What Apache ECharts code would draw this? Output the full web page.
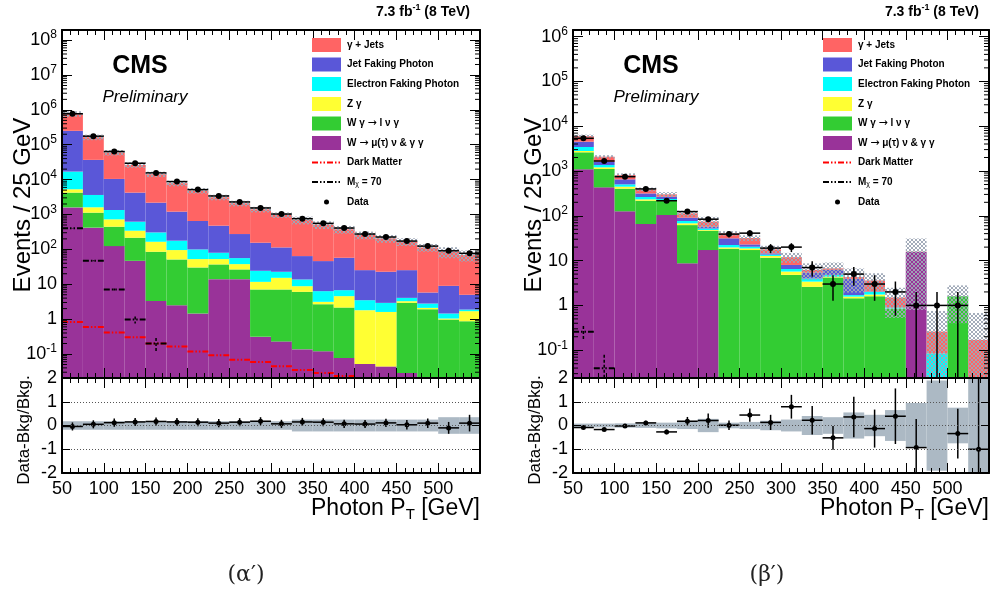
<!DOCTYPE html>
<html>
<head>
<meta charset="utf-8">
<script src="https://cdn.jsdelivr.net/npm/echarts@6/dist/echarts.min.js"></script>
<style>
  html, body { margin: 0; padding: 0; background: #fff; }
  #chart { width: 992px; height: 590px; }
</style>
</head>
<body>
<div id="chart"></div>
<script>
// ---- Binning: photon pT, 25 GeV bins from 50 to 550 GeV ----
const binLow = [50, 75, 100, 125, 150, 175, 200, 225, 250, 275, 300, 325, 350, 375, 400, 425, 450, 475, 500, 525];
const binWidth = 25;

// ---- Panel (α′): background components, events / 25 GeV ----
const leftWmunuGG   = [1600, 420, 124, 47, 3.3, 2.5, 1.45, 14, 14, 0.31, 0.23, 0.136, 0.12, 0.077, 0.052, 0.044, 0.0285, 0, 0, 0];
const leftWgamma    = [2640, 710, 323, 169, 82, 49, 28.9, 23, 12.6, 6.8, 6.85, 5.92, 2.56, 2.07, 0, 0, 2.9, 1.92, 0.97, 0.87];
const leftZgamma    = [1050, 480, 279, 127, 80, 44, 22.3, 15.6, 11.2, 4.6, 8.2, 2.74, 0.45, 2.41, 1.75, 1.56, 0.34, 0.18, 0.07, 0.82];
const leftEleFake   = [11700, 2020, 620, 279, 141, 82, 47, 27.4, 18.4, 12.6, 7.5, 4.9, 3.21, 2.21, 1.69, 1.32, 0.8, 0.7, 0.41, 0.19];
const leftJetFake   = [234000, 33200, 9120, 3620, 1880, 1030, 550, 398, 219, 131, 91, 50.5, 39.8, 50.7, 21.9, 19.9, 21.3, 3.0, 7.55, 3.1];
const leftGammaJets = [522000, 128000, 49300, 22200, 12100, 6660, 4190, 2640, 1820, 1250, 854, 631, 464, 318, 233, 184, 141, 108, 76.5, 63.6];
const leftData      = [773000, 176000, 63900, 29500, 15600, 8780, 5170, 3400, 2290, 1540, 1030, 759, 557, 409, 275, 226, 173, 124, 91, 77];
const leftBkgRelErr = [0.18, 0.18, 0.18, 0.18, 0.18, 0.18, 0.18, 0.18, 0.18, 0.18, 0.18, 0.25, 0.25, 0.25, 0.25, 0.25, 0.25, 0.25, 0.35, 0.35];
const leftRatio     = [-0.04, 0.05, 0.12, 0.15, 0.17, 0.15, 0.14, 0.10, 0.14, 0.18, 0.07, 0.15, 0.14, 0.07, 0.06, 0.11, 0.03, 0.10, -0.10, 0.10];
const leftRatioErr  = [0.17, 0.17, 0.17, 0.17, 0.17, 0.17, 0.17, 0.17, 0.17, 0.17, 0.17, 0.17, 0.17, 0.17, 0.17, 0.17, 0.2, 0.2, 0.25, 0.35];
const leftDarkMatter = [0.832, 0.598, 0.411, 0.302, 0.199, 0.163, 0.117, 0.0918, 0.0689, 0.059, 0.0443, 0.0348, 0.0285, 0.0234, null, null, null, null, null, null];
const leftMx70      = [401, 47.1, 7.08, 0.97, 0.199, null, null, null, null, null, null, null, null, null, null, null, null, null, null, null];
const leftMx70Err   = [4, 1.4, 0.5, 0.22, 0.09, null, null, null, null, null, null, null, null, null, null, null, null, null, null, null];

// ---- Panel (β′): background components, events / 25 GeV ----
const rightWmunuGG   = [1090, 431, 126, 65.6, 104, 8.7, 17.2, 0, 0, 0, 0, 0, 0, 0, 0, 0, 15.8, 0, 0, 0];
const rightWgamma    = [1520, 676, 277, 151, 110, 53.3, 28.8, 18.4, 17.2, 11.6, 4.8, 2.6, 4.2, 1.44, 1.6, 0.83, 0, 0, 1.6, 0];
const rightZgamma    = [180, 98, 43, 16, 11, 6, 2, 1.3, 1.5, 1.1, 0.9, 0.8, 0.2, 0.13, 0.15, 0.02, 0.1, 0, 0, 0];
const rightEleFake   = [640, 154, 57, 30, 12, 8.5, 4, 2.6, 1.7, 0.9, 0.8, 0.6, 0.4, 0.13, 0.25, 0.05, 0, 0.085, 0, 0];
const rightJetFake   = [1070, 255, 147, 53, 30, 14.5, 5, 9.1, 2.6, 0.9, 1.5, 1.4, 1.4, 2.2, 0.05, 0, 0, 0, 0, 0];
const rightGammaJets = [1500, 471, 163, 73, 34, 22, 17, 9.2, 8.9, 3.3, 3.9, 0.8, 0.5, 0.4, 1.55, 0.6, 0, 0.175, 0, 0.17];
const rightData      = [5360, 1670, 746, 398, 217, 124, 84, 39, 41, 19, 20, 7, 3, 5, 3, 2, 1, 1, 1, 0];
const rightBkgRelErr = [0.08, 0.08, 0.09, 0.1, 0.12, 0.15, 0.28, 0.12, 0.15, 0.2, 0.25, 0.4, 0.35, 0.55, 0.45, 0.65, 0.95, 1.9, 0.75, 3.0];
const rightRatio     = [-0.085, -0.17, -0.02, 0.11, -0.27, 0.18, 0.21, 0.01, 0.44, 0.13, 0.79, 0.22, -0.52, 0.36, -0.13, 0.39, -0.93, null, -0.34, -1.0];
const rightRatioErr  = [0.04, 0.05, 0.07, 0.09, 0.1, 0.18, 0.3, 0.2, 0.28, 0.32, 0.5, 0.6, 0.5, 0.85, 0.8, 1.17, 1.2, null, 1.05, 3.0];
const rightMx70      = [0.259, 0.0395, null, null, null, null, null, null, null, null, null, null, null, null, null, null, null, null, null, null];
const rightMx70Err   = [0.09, 0.04, null, null, null, null, null, null, null, null, null, null, null, null, null, null, null, null, null, null];

// ---- Legend / process labels (stack order bottom → top) ----
const processNames = ['W \u2192 \u03bc(\u03c4) \u03bd & \u03b3 \u03b3', 'W \u03b3 \u2192 l \u03bd \u03b3', 'Z \u03b3', 'Electron Faking Photon', 'Jet Faking Photon', '\u03b3 + Jets'];
const processColors = ['#993399', '#33cc33', '#ffff33', '#00ffff', '#5a57d8', '#ff6464'];
const legendOrder = [5, 4, 3, 2, 1, 0];

const FONT = '"Liberation Sans", Arial, Helvetica, sans-serif';
const RATIO_BAND = '#acb9c4';

// cross-hatch fill for the background uncertainty band
const hatchCanvas = document.createElement('canvas');
hatchCanvas.width = 4; hatchCanvas.height = 4;
(function () {
  const c = hatchCanvas.getContext('2d');
  c.fillStyle = 'rgba(158,168,182,0.95)';
  for (let i = 0; i < 4; i++) { c.fillRect(i, i, 1, 1); c.fillRect(3 - i, i, 1, 1); }
})();
const hatchFill = { image: hatchCanvas, repeat: 'repeat' };

const panels = [
  {
    gridLeft: 62, gridWidth: 418, yMin: 0.0205, yMax: 1.95e8,
    comps: [leftWmunuGG, leftWgamma, leftZgamma, leftEleFake, leftJetFake, leftGammaJets],
    data: leftData, relErr: leftBkgRelErr, ratio: leftRatio, ratioErr: leftRatioErr,
    darkMatter: leftDarkMatter, mx: leftMx70, mxErr: leftMx70Err
  },
  {
    gridLeft: 573, gridWidth: 416, yMin: 0.024, yMax: 1.4e6,
    comps: [rightWmunuGG, rightWgamma, rightZgamma, rightEleFake, rightJetFake, rightGammaJets],
    data: rightData, relErr: rightBkgRelErr, ratio: rightRatio, ratioErr: rightRatioErr,
    darkMatter: null, mx: rightMx70, mxErr: rightMx70Err
  }
];

const MAIN_TOP = 30, MAIN_H = 348, RATIO_TOP = 378, RATIO_H = 95;

function powerLabel(v) {
  const lg = Math.log10(v);
  const e = Math.round(lg);
  if (Math.abs(lg - e) > 1e-6) return '';
  if (e === 0) return '{b|1}';
  if (e === 1) return '{b|10}';
  return '{b|10}{s|' + e + '}';
}

// legend label as rich text: arrows drawn with a font that has a full-size arrow glyph
function legendRich(name) {
  return name.split('\u2192').map(function (part) { return part ? '{a|' + part + '}' : ''; }).join('{r|\u2192}');
}

// rectangles [x0, x1, lo, hi] clamped to [vMin, vMax]
function rectSeries(name, xi, yi, rows, fill, z, vMin, vMax) {
  return {
    type: 'custom', name: name, xAxisIndex: xi, yAxisIndex: yi, z: z, silent: true,
    data: rows,
    encode: { x: [0, 1], y: [2, 3] },
    renderItem: function (params, api) {
      const lo = Math.max(api.value(2), vMin);
      const hi = Math.min(api.value(3), vMax);
      if (!(hi > lo)) return;
      const a = api.coord([api.value(0), hi]);
      const b = api.coord([api.value(1), lo]);
      return { type: 'rect', shape: { x: a[0], y: a[1], width: b[0] - a[0], height: b[1] - a[1] }, style: { fill: fill } };
    }
  };
}

// points with horizontal bin-width bar and vertical error bar
function pointSeries(name, xi, yi, rows, vMin, vMax, radius, lw) {
  return {
    type: 'custom', name: name, xAxisIndex: xi, yAxisIndex: yi, z: 6, silent: true,
    data: rows, // [x0, x1, value, errLow, errHigh]
    encode: { x: [0, 1], y: 2 },
    renderItem: function (params, api) {
      const v = api.value(2);
      if (!(v > vMin && v < vMax)) return;
      const x0 = api.value(0), x1 = api.value(1), xc = (x0 + x1) / 2;
      const lo = Math.max(v - api.value(3), vMin);
      const hi = Math.min(v + api.value(4), vMax);
      const p = api.coord([xc, v]);
      const pl = api.coord([x0, v]), pr = api.coord([x1, v]);
      const pLo = api.coord([xc, lo]), pHi = api.coord([xc, hi]);
      const st = { stroke: '#000', lineWidth: lw };
      return {
        type: 'group', children: [
          { type: 'line', shape: { x1: pl[0], y1: p[1], x2: pr[0], y2: p[1] }, style: st },
          { type: 'line', shape: { x1: p[0], y1: pHi[1], x2: p[0], y2: pLo[1] }, style: st },
          { type: 'circle', shape: { cx: p[0], cy: p[1], r: radius }, style: { fill: '#000' } }
        ]
      };
    }
  };
}

// dash-dot signal histograms, one horizontal segment per bin (optional error bar)
function signalSeries(name, xi, yi, rows, color, dash, vMin, vMax) {
  return {
    type: 'custom', name: name, xAxisIndex: xi, yAxisIndex: yi, z: 5, silent: true,
    data: rows, // [x0, x1, value, err]
    encode: { x: [0, 1], y: 2 },
    renderItem: function (params, api) {
      const v = api.value(2);
      if (!(v > vMin && v < vMax)) return;
      const x0 = api.value(0), x1 = api.value(1), xc = (x0 + x1) / 2;
      const e = api.value(3);
      const a = api.coord([x0, v]), b = api.coord([x1, v]);
      const st = { stroke: color, lineWidth: 2, lineDash: dash };
      const kids = [{ type: 'line', shape: { x1: a[0], y1: a[1], x2: b[0], y2: b[1] }, style: st }];
      if (e > 0) {
        const hi = Math.min(v + e, vMax), lo = Math.max(v - e, vMin);
        const pH = api.coord([xc, hi]), pL = api.coord([xc, lo]);
        kids.push({ type: 'line', shape: { x1: pH[0], y1: pH[1], x2: pL[0], y2: pL[1] }, style: { stroke: color, lineWidth: 1.5, lineDash: [3, 2] } });
      }
      return { type: 'group', children: kids };
    }
  };
}

// ROOT-style minor ticks (2..9 × 10^n) on both sides of a log axis
function logMinorTicks(xi, yi, vMin, vMax) {
  return {
    type: 'custom', xAxisIndex: xi, yAxisIndex: yi, z: 8, silent: true,
    data: [[binLow[0], vMin]],
    renderItem: function (params, api) {
      const cs = params.coordSys;
      const kids = [];
      for (let n = Math.floor(Math.log10(vMin)); n <= Math.ceil(Math.log10(vMax)); n++) {
        for (let k = 2; k <= 9; k++) {
          const v = k * Math.pow(10, n);
          if (v <= vMin || v >= vMax) continue;
          const y = api.coord([binLow[0], v])[1];
          kids.push({ type: 'line', shape: { x1: cs.x, y1: y, x2: cs.x + 5, y2: y }, style: { stroke: '#000', lineWidth: 1 } });
          kids.push({ type: 'line', shape: { x1: cs.x + cs.width - 5, y1: y, x2: cs.x + cs.width, y2: y }, style: { stroke: '#000', lineWidth: 1 } });
        }
      }
      return { type: 'group', children: kids };
    }
  };
}

const grids = [], xAxes = [], yAxes = [], series = [], graphics = [];

function xAxisDef(gi, pos, labels) {
  return {
    type: 'value', gridIndex: gi, position: pos, min: 50, max: 550, interval: 50, z: 7,
    axisLine: { show: true, onZero: false, lineStyle: { color: '#000', width: 2 } },
    axisTick: { show: true, inside: true, length: 10, lineStyle: { color: '#000', width: 1 } },
    minorTick: { show: true, splitNumber: 5, length: 5, lineStyle: { color: '#000', width: 1 } },
    splitLine: { show: false },
    axisLabel: labels ? { show: true, fontFamily: FONT, fontSize: 18, color: '#000', margin: 7, showMaxLabel: false } : { show: false }
  };
}

panels.forEach(function (P, p) {
  const gMain = 2 * p, gRatio = 2 * p + 1;
  grids.push({ left: P.gridLeft, top: MAIN_TOP, width: P.gridWidth, height: MAIN_H, show: false });
  grids.push({ left: P.gridLeft, top: RATIO_TOP, width: P.gridWidth, height: RATIO_H, show: false });

  const xMain = 4 * p, xRatio = 4 * p + 2;
  xAxes.push(xAxisDef(gMain, 'bottom', false));
  xAxes.push(xAxisDef(gMain, 'top', false));
  xAxes.push(xAxisDef(gRatio, 'bottom', true));
  xAxes.push(xAxisDef(gRatio, 'top', false));

  const yMain = 4 * p, yRatio = 4 * p + 2;
  [false, true].forEach(function (right) {
    yAxes.push({
      type: 'log', logBase: 10, gridIndex: gMain, position: right ? 'right' : 'left',
      min: P.yMin, max: P.yMax, splitNumber: 10, z: 7,
      axisLine: { show: true, onZero: false, lineStyle: { color: '#000', width: 2 } },
      axisTick: { show: true, inside: true, length: 10, lineStyle: { color: '#000', width: 1 } },
      splitLine: { show: false },
      axisLabel: right ? { show: false } : {
        show: true, margin: 5, formatter: powerLabel, showMinLabel: false, showMaxLabel: false,
        rich: {
          b: { fontFamily: FONT, fontSize: 18, color: '#000', lineHeight: 22 },
          s: { fontFamily: FONT, fontSize: 12, color: '#000', lineHeight: 12, verticalAlign: 'top' }
        }
      }
    });
  });
  [false, true].forEach(function (right) {
    yAxes.push({
      type: 'value', gridIndex: gRatio, position: right ? 'right' : 'left',
      min: -2, max: 2, interval: 1, z: 7,
      axisLine: { show: true, onZero: false, lineStyle: { color: '#000', width: 2 } },
      axisTick: { show: true, inside: true, length: 8, lineStyle: { color: '#000', width: 1 } },
      splitLine: right ? { show: false } : { show: true, lineStyle: { color: '#555', width: 1, type: [1, 2] } },
      axisLabel: right ? { show: false } : { show: true, fontFamily: FONT, fontSize: 18, color: '#000', margin: 5 }
    });
  });

  // stacked backgrounds
  const base = binLow.map(function () { return 0; });
  P.comps.forEach(function (comp, c) {
    const rows = binLow.map(function (x, i) {
      const lo = base[i];
      base[i] += comp[i];
      return [x, x + binWidth, Math.max(lo, P.yMin), Math.max(base[i], P.yMin)];
    });
    series.push(rectSeries(processNames[c], xMain, yMain, rows, processColors[c], 2, P.yMin, P.yMax));
  });
  const totals = base.slice();

  // background uncertainty band (hatched)
  const bandRows = binLow.map(function (x, i) {
    return [x, x + binWidth, Math.max(totals[i] * (1 - P.relErr[i]), P.yMin), Math.max(totals[i] * (1 + P.relErr[i]), P.yMin)];
  });
  series.push(rectSeries('Bkg. uncertainty', xMain, yMain, bandRows, hatchFill, 3, P.yMin, P.yMax));

  // signal histograms
  if (P.darkMatter) {
    series.push(signalSeries('Dark Matter', xMain, yMain,
      binLow.map(function (x, i) { return [x, x + binWidth, P.darkMatter[i] == null ? 0 : P.darkMatter[i], 0]; }),
      '#ff0000', [6, 2, 1.5, 2, 1.5, 2], P.yMin, P.yMax));
  }
  series.push(signalSeries('M\u03c7 = 70', xMain, yMain,
    binLow.map(function (x, i) { return [x, x + binWidth, P.mx[i] == null ? 0 : P.mx[i], P.mxErr[i] == null ? 0 : P.mxErr[i]]; }),
    '#000', [6, 2, 1.5, 2, 1.5, 2], P.yMin, P.yMax));

  // data with Poisson errors
  series.push(pointSeries('Data', xMain, yMain,
    binLow.map(function (x, i) { const n = P.data[i]; return [x, x + binWidth, n, Math.sqrt(n), Math.sqrt(n)]; }),
    P.yMin, P.yMax, 3, 1.5));

  series.push(logMinorTicks(xMain, yMain, P.yMin, P.yMax));

  // ratio panel: band and points
  series.push(rectSeries('Bkg. uncertainty ratio', xRatio, yRatio,
    binLow.map(function (x, i) { return [x, x + binWidth, -P.relErr[i], P.relErr[i]]; }),
    RATIO_BAND, 3, -2, 2));
  series.push(pointSeries('(Data-Bkg)/Bkg', xRatio, yRatio,
    binLow.map(function (x, i) {
      const r = P.ratio[i];
      return [x, x + binWidth, r == null ? -9 : r, P.ratioErr[i] || 0, P.ratioErr[i] || 0];
    }), -2.0001, 2.0001, 2.5, 1.5));

  // ---- text: titles, labels, legend ----
  const L = P.gridLeft, R = P.gridLeft + P.gridWidth;
  graphics.push({
    type: 'text', x: L - 39, y: 205, rotation: Math.PI / 2, z: 20,
    style: { text: 'Events / 25 GeV', font: '24px ' + FONT, fill: '#000', align: 'center', verticalAlign: 'middle' }
  });
  graphics.push({
    type: 'text', x: L - 38, y: 430, rotation: Math.PI / 2, z: 20,
    style: { text: 'Data-Bkg/Bkg.', font: '17px ' + FONT, fill: '#000', align: 'center', verticalAlign: 'middle' }
  });
  graphics.push({
    type: 'text', x: R, y: 509, z: 20,
    style: {
      text: '{a|Photon P}{t|T}{a| [GeV]}', align: 'right', verticalAlign: 'middle',
      rich: {
        a: { fontFamily: FONT, fontSize: 23, color: '#000', lineHeight: 26 },
        t: { fontFamily: FONT, fontSize: 15, color: '#000', lineHeight: 14, verticalAlign: 'bottom', padding: [12, 0, 0, 0] }
      }
    }
  });
  graphics.push({
    type: 'text', x: R - 10, y: 12, z: 20,
    style: {
      text: '{b|7.3 fb}{s|-1}{b| (8 TeV)}', align: 'right', verticalAlign: 'middle',
      rich: {
        b: { fontFamily: FONT, fontSize: 14, fontWeight: 'bold', color: '#000', lineHeight: 18 },
        s: { fontFamily: FONT, fontSize: 9, fontWeight: 'bold', color: '#000', lineHeight: 10, verticalAlign: 'top' }
      }
    }
  });
  graphics.push({
    type: 'text', x: L + 78, y: 66, z: 20,
    style: { text: 'CMS', font: 'bold 25px ' + FONT, fill: '#000', align: 'center', verticalAlign: 'middle' }
  });
  graphics.push({
    type: 'text', x: L + 83, y: 97, z: 20,
    style: { text: 'Preliminary', font: 'italic 17px ' + FONT, fill: '#000', align: 'center', verticalAlign: 'middle' }
  });

  // legend
  const boxX = L + 250, textX = L + 285;
  const rowY = [45, 64.5, 84, 104, 123.5, 143, 162.5, 182, 202];
  const legendRichStyles = {
    a: { fontFamily: FONT, fontSize: 10, fontWeight: 'bold', color: '#000', lineHeight: 14 },
    r: { fontFamily: '"DejaVu Sans", sans-serif', fontSize: 11, color: '#000', lineHeight: 14 }
  };
  legendOrder.forEach(function (c, r) {
    graphics.push({ type: 'rect', z: 20, shape: { x: boxX, y: rowY[r] - 7, width: 29, height: 14 }, style: { fill: processColors[c] } });
    graphics.push({
      type: 'text', x: textX, y: rowY[r], z: 20,
      style: { text: legendRich(processNames[c]), rich: legendRichStyles, align: 'left', verticalAlign: 'middle' }
    });
  });
  graphics.push({ type: 'line', z: 20, shape: { x1: boxX, y1: rowY[6], x2: boxX + 29, y2: rowY[6] }, style: { stroke: '#ff0000', lineWidth: 2, lineDash: [6, 2, 1.5, 2, 1.5, 2] } });
  graphics.push({ type: 'text', x: textX, y: rowY[6], z: 20, style: { text: 'Dark Matter', font: 'bold 10px ' + FONT, fill: '#000', align: 'left', verticalAlign: 'middle' } });
  graphics.push({ type: 'line', z: 20, shape: { x1: boxX, y1: rowY[7], x2: boxX + 29, y2: rowY[7] }, style: { stroke: '#000', lineWidth: 2, lineDash: [6, 2, 1.5, 2, 1.5, 2] } });
  graphics.push({
    type: 'text', x: textX, y: rowY[7], z: 20,
    style: {
      text: '{a|M}{s|\u03c7}{a| = 70}', align: 'left', verticalAlign: 'middle',
      rich: {
        a: { fontFamily: FONT, fontSize: 10, fontWeight: 'bold', color: '#000', lineHeight: 12 },
        s: { fontFamily: FONT, fontSize: 7, color: '#000', lineHeight: 8, verticalAlign: 'bottom', padding: [4, 0, 0, 0] }
      }
    }
  });
  graphics.push({ type: 'circle', z: 20, shape: { cx: boxX + 14.5, cy: rowY[8], r: 2.5 }, style: { fill: '#000' } });
  graphics.push({ type: 'text', x: textX, y: rowY[8], z: 20, style: { text: 'Data', font: 'bold 10px ' + FONT, fill: '#000', align: 'left', verticalAlign: 'middle' } });
});

graphics.push({ type: 'text', x: 246, y: 575, z: 20, style: { text: '(\u03b1\u2032)', font: '22px "DejaVu Serif", "Liberation Serif", serif', fill: '#222', align: 'center', verticalAlign: 'middle' } });
graphics.push({ type: 'text', x: 767, y: 575, z: 20, style: { text: '(\u03b2\u2032)', font: '22px "DejaVu Serif", "Liberation Serif", serif', fill: '#222', align: 'center', verticalAlign: 'middle' } });

const chart = echarts.init(document.getElementById('chart'), null, { renderer: 'canvas' });
chart.setOption({
  animation: false,
  backgroundColor: '#fff',
  grid: grids,
  xAxis: xAxes,
  yAxis: yAxes,
  series: series,
  graphic: graphics
});
</script>
</body>
</html>
